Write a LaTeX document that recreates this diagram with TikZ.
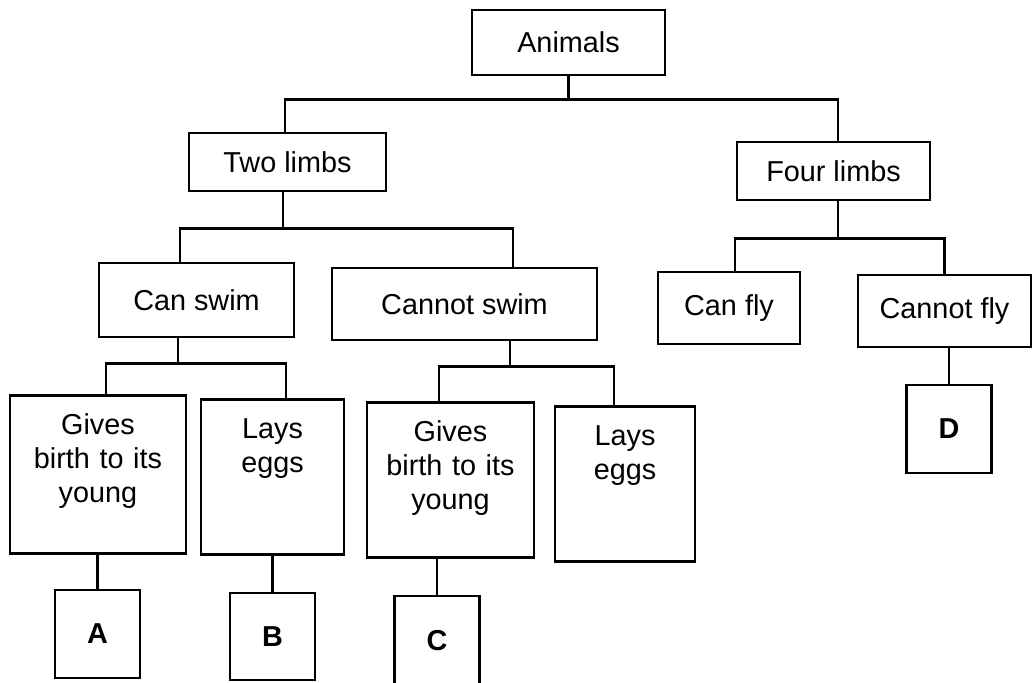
\documentclass[tikz,border=0pt]{standalone}
\usepackage{fontspec}
\setmainfont{Liberation Sans}
\usetikzlibrary{calc}

\def\px{0.02cm}

\begin{document}
\begin{tikzpicture}[x=\px,y=-\px,line width=1.5pt,font=\fontsize{16.4}{19.3}\selectfont]
    \tikzstyle{tree box}=[draw,inner sep=0pt,align=center]
    \tikzset{class box/.style 2 args={tree box,minimum width=#1*\px,minimum height=#2*\px}}
    \tikzset{tall box/.style 2 args={tree box,anchor=north,minimum width=#1*\px,
        text width=2.6cm,text height=0.78cm,text depth=#2}}
    \tikzset{letter box/.style={tree box,minimum width=85*\px,minimum height=#1*\px,
        font=\fontsize{16.4}{19.3}\selectfont\bfseries}}

    \useasboundingbox (0,0) rectangle (1033,682);
    \clip (0,0) rectangle (1033,682);

    % Draw the classes
    \node[class box={193}{65}] (animals) at (568.5,42.5) {Animals};
    \node[class box={197}{58}] (twolimbs) at (287.5,162) {Two limbs};
    \node[class box={193}{58}] (fourlimbs) at (833.5,171) {Four limbs};
    \node[class box={195}{74}] (canswim) at (196.5,300) {Can swim};
    \node[class box={265}{72}] (cannotswim) at (464.5,304) {Cannot swim};
    \node[class box={142}{72}] (canfly) at (729,308) {Can fly};
    \node[class box={173}{72}] (cannotfly) at (944.5,311) {Cannot fly};

    % Draw the tall boxes, text at the top
    \node[tall box={176}{2.38cm}] (givesone) at (98,394) {Gives\\birth to its\\young};
    \node[tall box={143}{2.32cm}] (laysone) at (272.5,398) {Lays\\eggs};
    \node[tall box={167}{2.32cm}] (givestwo) at (450.5,401) {Gives\\birth to its\\young};
    \node[tall box={140}{2.32cm}] (laystwo) at (625,405) {Lays\\eggs};

    % Animals to two and four limbs
    \draw (animals.south) -- ++(0,23) coordinate (animals-bus);
    \draw ($(twolimbs.north)+(-2.5,0)$) |- (animals-bus) -| ($(fourlimbs.north)+(4.5,0)$);

    % Two limbs to can / cannot swim
    \draw ($(twolimbs.south)+(-4.5,0)$) -- ++(0,36) coordinate (twolimbs-bus);
    \draw ($(canswim.north)+(-16.5,0)$) |- (twolimbs-bus) -| ($(cannotswim.north)+(48.5,0)$);

    % Four limbs to can / cannot fly
    \draw ($(fourlimbs.south)+(4.5,0)$) -- ++(0,37) coordinate (fourlimbs-bus);
    \draw ($(canfly.north)+(6,0)$) |- (fourlimbs-bus) -| (cannotfly.north);

    % Swimming classes to the tall boxes
    \draw ($(canswim.south)+(-18.5,0)$) -- ++(0,25) coordinate (canswim-bus);
    \draw ($(givesone.north)+(8,0)$) |- (canswim-bus) -| ($(laysone.north)+(13.5,0)$);
    \draw ($(cannotswim.south)+(45.5,0)$) -- ++(0,25) coordinate (cannotswim-bus);
    \draw ($(givestwo.north)+(-11.5,0)$) |- (cannotswim-bus) -| ($(laystwo.north)+(-11,0)$);

    % Draw the letter boxes and hang them from their parents
    \foreach \name/\parent/\x/\y/\h in {A/givesone/97.5/634/88,B/laysone/272.5/636.5/87,
                                        C/givestwo/437/641/90,D/cannotfly/949/429/88}
    {
        \node[letter box=\h] (\name) at (\x,\y) {\name};
        \draw (\parent.south -| \name.north) -- (\name.north);
    }
\end{tikzpicture}
\end{document}
